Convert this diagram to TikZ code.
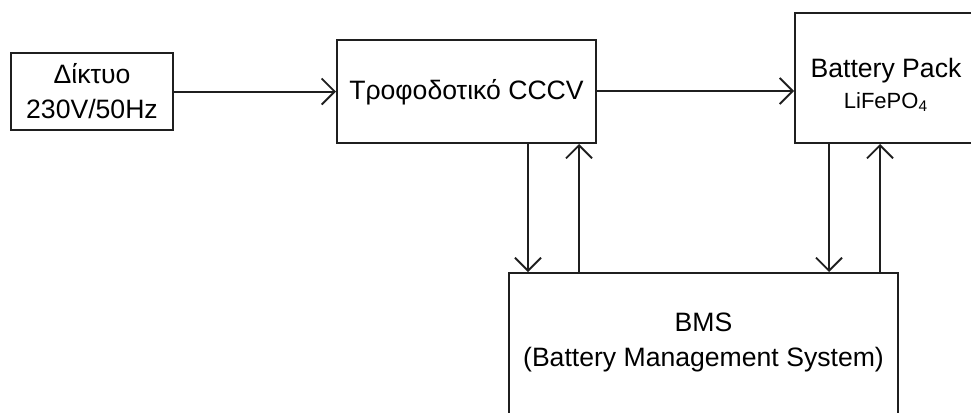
\documentclass[tikz,border=0pt]{standalone}
\usepackage{fontspec}
\setmainfont{Liberation Sans}
\usetikzlibrary{arrows.meta}
\begin{document}
\begin{tikzpicture}[x=0.5pt,y=-0.5pt,
  blockbox/.style={draw=black!88, line width=1pt, rectangle, inner sep=0pt},
  lbl/.style={align=center, inner sep=0pt, font=\fontsize{13.3}{17.5}\selectfont},
  conn/.style={draw=black!88, line width=1pt, -{Straight Barb[length=6.5pt,width=13pt,line width=0.9pt]}}]
\useasboundingbox (0,0) rectangle (971,413);
\clip (0,0) rectangle (971,413);
% boxes
\node[blockbox, minimum width=81pt, minimum height=38.5pt] (grid) at (92,91.5) {};
\node[lbl] (gridlbl) at (92,91) {Δίκτυο\\230V/50Hz};
\node[blockbox, minimum width=129.5pt, minimum height=51.5pt] (psu) at (466.5,91.5) {};
\node[lbl] (psulbl) at (466.5,92) {Τροφοδοτικό CCCV};
\node[blockbox, minimum width=91pt, minimum height=65pt] (bat) at (886,78) {};
\node[lbl, anchor=base] (batlbl1) at (886,77) {Battery Pack};
\node[inner sep=0pt, anchor=base, font=\fontsize{11}{13}\selectfont] (batlbl2) at (886,108) {LiFePO\textsubscript{4}};
\node[blockbox, minimum width=194.5pt, minimum height=76pt] (bms) at (703.5,349) {};
\node[lbl] (bmslbl) at (703.5,342) {BMS\\(Battery Management System)};
% connection points
\coordinate (x1) at (528,0);
\coordinate (x2) at (579,0);
\coordinate (x3) at (829,0);
\coordinate (x4) at (880,0);
% connectors
\draw[conn] (grid.east) -- (psu.west |- grid.east);
\draw[conn] (psu.east |- 0,91) -- (bat.west |- 0,91);
\draw[conn] (psu.south -| x1) -- (bms.north -| x1);
\draw[conn] (bms.north -| x2) -- (psu.south -| x2);
\draw[conn] (bat.south -| x3) -- (bms.north -| x3);
\draw[conn] (bms.north -| x4) -- (bat.south -| x4);
\end{tikzpicture}
\end{document}
